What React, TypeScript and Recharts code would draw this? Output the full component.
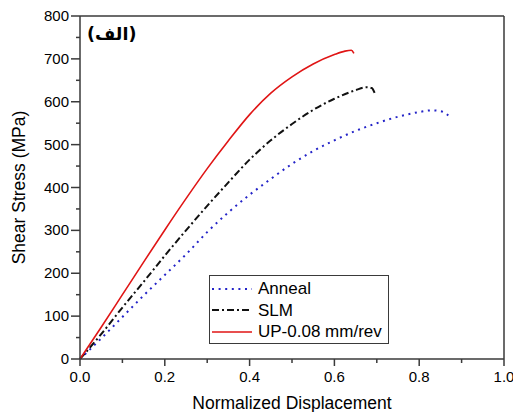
import { LineChart, Line, XAxis, YAxis, Legend } from "recharts";

const FONT = "'Liberation Sans', Arial, sans-serif";
const AXIS = "#3a3a3a";

const xTicks = [0, 0.1, 0.2, 0.3, 0.4, 0.5, 0.6, 0.7, 0.8, 0.9, 1.0];
const yTicks = [0, 50, 100, 150, 200, 250, 300, 350, 400, 450, 500, 550, 600, 650, 700, 750, 800];

const annealX = [0, 0.05, 0.1, 0.15, 0.2, 0.25, 0.3, 0.35, 0.4, 0.45, 0.5, 0.55, 0.6, 0.65, 0.7, 0.75, 0.8, 0.83, 0.85, 0.865, 0.875];
const annealY = [0, 48, 98, 148, 196, 244, 296, 342, 383, 420, 455, 485, 510, 532, 550, 565, 576, 580, 578, 571, 561];

const slmX = [0, 0.05, 0.1, 0.15, 0.2, 0.25, 0.3, 0.35, 0.4, 0.45, 0.5, 0.55, 0.6, 0.65, 0.675, 0.688, 0.695];
const slmY = [0, 58, 120, 180, 241, 300, 357, 412, 465, 510, 548, 581, 607, 627, 634, 632, 620];

const upX = [0, 0.05, 0.1, 0.15, 0.2, 0.25, 0.3, 0.35, 0.4, 0.45, 0.5, 0.55, 0.6, 0.625, 0.64, 0.646];
const upY = [0, 74, 150, 226, 301, 374, 444, 509, 570, 620, 658, 688, 710, 718, 720, 713];

const toPoints = (xs: number[], ys: number[]) => xs.map((x, i) => ({ x, y: ys[i] }));
const annealData = toPoints(annealX, annealY);
const slmData = toPoints(slmX, slmY);
const upData = toPoints(upX, upY);

const series = [
  { name: "Anneal", data: annealData, color: "#2424c8", dash: "2 4.6", width: 2 },
  { name: "SLM", data: slmData, color: "#111", dash: "7 3 2 3", width: 2 },
  { name: "UP-0.08 mm/rev", data: upData, color: "#e01515", dash: undefined, width: 1.6 },
];

const BottomTick = (p: any) => {
  const major = p.index % 2 === 0;
  return (
    <g>
      <line x1={p.x} x2={p.x} y1={p.y} y2={p.y + (major ? 7 : 4)} stroke={AXIS} strokeWidth={1.5} />
      {major && (
        <text x={p.x} y={p.y + 23} textAnchor="middle" fontSize={15} fontFamily={FONT} fill="#000">
          {p.payload.value.toFixed(1)}
        </text>
      )}
    </g>
  );
};

const TopTick = (p: any) => {
  const major = p.index % 2 === 0;
  return <line x1={p.x} x2={p.x} y1={p.y} y2={p.y + (major ? 8 : 4)} stroke={AXIS} strokeWidth={1.5} />;
};

const LeftTick = (p: any) => {
  const major = p.index % 2 === 0;
  return (
    <g>
      <line x1={p.x - (major ? 9 : 4)} x2={p.x} y1={p.y} y2={p.y} stroke={AXIS} strokeWidth={1.5} />
      {major && (
        <text x={p.x - 11} y={p.y + 5} textAnchor="end" fontSize={15} fontFamily={FONT} fill="#000">
          {p.payload.value}
        </text>
      )}
    </g>
  );
};

const RightTick = (p: any) => {
  const major = p.index % 2 === 0;
  return <line x1={p.x - (major ? 8 : 4)} x2={p.x} y1={p.y} y2={p.y} stroke={AXIS} strokeWidth={1.5} />;
};

const LegendBox = () => (
  <div
    style={{
      width: 180,
      height: 69,
      boxSizing: "border-box",
      border: `1px solid ${AXIS}`,
      background: "#fff",
      paddingTop: 2,
      paddingLeft: 2,
      fontFamily: FONT,
      fontSize: 17,
    }}
  >
    {series.map((s) => (
      <div key={s.name} style={{ display: "flex", alignItems: "center", height: 21.5 }}>
        <svg width={40} height={6}>
          <line x1={0} x2={40} y1={3} y2={3} stroke={s.color} strokeWidth={s.width} strokeDasharray={s.dash} />
        </svg>
        <span style={{ marginLeft: 6, lineHeight: 1, color: "#000" }}>{s.name}</span>
      </div>
    ))}
  </div>
);

export default function App() {
  return (
    <div style={{ position: "absolute", left: 0, top: 0, width: 513, height: 412, background: "#fff" }}>
      <LineChart width={513} height={412} margin={{ top: 0, right: 0, bottom: 0, left: 20 }}>
        <XAxis
          dataKey="x"
          type="number"
          domain={[0, 1]}
          ticks={xTicks}
          interval={0}
          height={53}
          tickSize={0}
          tickMargin={0}
          tick={BottomTick}
          axisLine={{ stroke: AXIS, strokeWidth: 1.5 }}
          label={(lp: any) => (
            <text
              x={lp.viewBox.x + lp.viewBox.width / 2}
              y={lp.viewBox.y + 50}
              textAnchor="middle"
              fontSize={17.5}
              fontFamily={FONT}
              fill="#000"
            >
              Normalized Displacement
            </text>
          )}
        />
        <XAxis
          xAxisId="top"
          orientation="top"
          dataKey="x"
          type="number"
          domain={[0, 1]}
          ticks={xTicks}
          interval={0}
          height={16}
          tickSize={0}
          tickMargin={0}
          tick={TopTick}
          axisLine={{ stroke: AXIS, strokeWidth: 1.5 }}
          label={(lp: any) => (
            <text
              x={lp.viewBox.x + 7}
              y={lp.viewBox.y + lp.viewBox.height + 24}
              fontSize={17.5}
              fontWeight="bold"
              fontFamily="'DejaVu Sans', sans-serif"
              fill="#000"
            >
              (الف)
            </text>
          )}
        />
        <YAxis
          type="number"
          domain={[0, 800]}
          ticks={yTicks}
          interval={0}
          width={60}
          tickSize={0}
          tickMargin={0}
          tick={LeftTick}
          axisLine={{ stroke: AXIS, strokeWidth: 1.5 }}
          label={(lp: any) => (
            <text
              x={25}
              y={lp.viewBox.y + lp.viewBox.height / 2}
              transform={`rotate(-90 25 ${lp.viewBox.y + lp.viewBox.height / 2})`}
              textAnchor="middle"
              fontSize={17.5}
              fontFamily={FONT}
              fill="#000"
            >
              Shear Stress (MPa)
            </text>
          )}
        />
        <YAxis
          yAxisId="right"
          orientation="right"
          type="number"
          domain={[0, 800]}
          ticks={yTicks}
          interval={0}
          width={9}
          tickSize={0}
          tickMargin={0}
          tick={RightTick}
          axisLine={{ stroke: AXIS, strokeWidth: 1.5 }}
        />
        {series.map((s) => (
          <Line
            key={s.name}
            name={s.name}
            data={s.data}
            dataKey="y"
            type="monotone"
            stroke={s.color}
            strokeWidth={s.width}
            strokeDasharray={s.dash}
            dot={false}
            activeDot={false}
            isAnimationActive={false}
          />
        ))}
        <Legend
          layout="vertical"
          align="center"
          verticalAlign="middle"
          content={() => <LegendBox />}
          wrapperStyle={{ left: 209, top: 275, width: 180, height: 69 }}
        />
      </LineChart>
    </div>
  );
}
